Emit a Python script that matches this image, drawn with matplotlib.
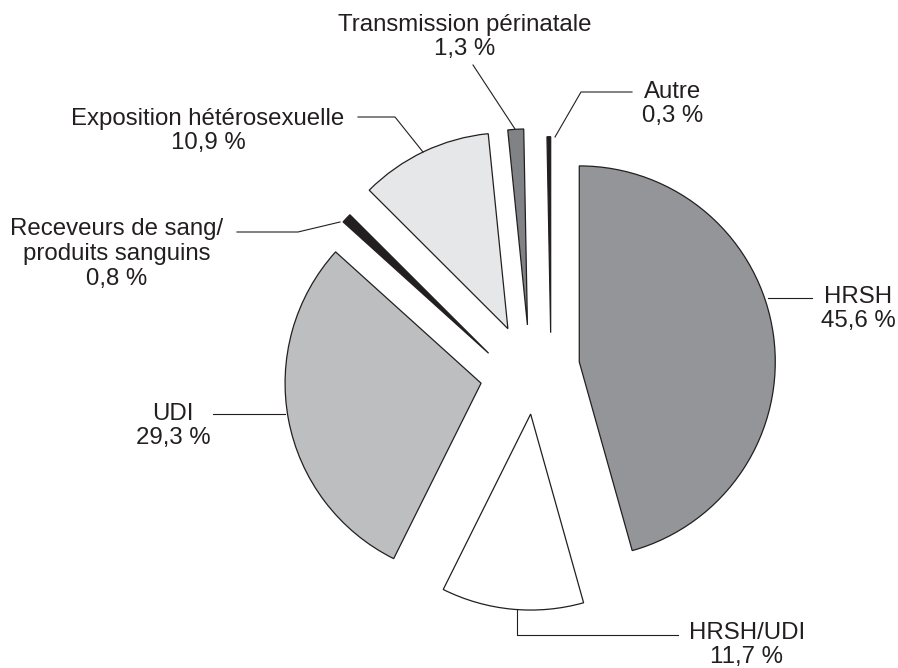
import matplotlib.pyplot as plt

# données (pourcentages, dans le sens horaire à partir de midi)
labels = ['HRSH', 'HRSH/UDI', 'UDI', 'Receveurs de sang/\nproduits sanguins',
          'Exposition hétérosexuelle', 'Transmission périnatale', 'Autre']
values = [45.6, 11.7, 29.3, 0.8, 10.9, 1.3, 0.3]
pct_text = ['45,6 %', '11,7 %', '29,3 %', '0,8 %', '10,9 %', '1,3 %', '0,3 %']
colors = ['#939598', '#ffffff', '#bcbec0', '#231f20', '#e6e7e8', '#808285', '#231f20']

W, H = 898, 668
ink = '#231f20'
R = 196
# décalage de chaque part (fraction du rayon) + petit ajustement manuel (px)
explode = [0.228, 0.236, 0.28, 0.228, 0.239, 0.22, 0.18]
nudge = [(0, 0), (0, 0), (0, -5), (-14, -16), (-7, -3), (-5, 0), (16, 0)]

fig = plt.figure(figsize=(W / 100, H / 100), dpi=100)
ax = fig.add_axes([0, 0, 1, 1])

wedges, _ = ax.pie(values, explode=[e * R for e in explode], colors=colors, startangle=90,
                   counterclock=False, center=(535, H - 368), radius=R,
                   wedgeprops=dict(edgecolor=ink, linewidth=0.9))
for w, (dx, dy) in zip(wedges, nudge):
    cx, cy = w.center
    w.set_center((cx + dx, cy + dy))

ax.set_xlim(0, W)
ax.set_ylim(0, H)
ax.set_aspect('equal')
ax.axis('off')

# emplacement des étiquettes (coordonnées image, y vers le bas)
text_pos = [(858, 309), (747, 645), (173, 426), (117, 254), (208, 131), (465, 37), (673, 104)]
leaders = [
    [(768, 298), (812, 298)],
    [(517, 609), (517, 635), (678, 635)],
    [(213, 414), (285, 414)],
    [(237, 232), (298, 232), (340, 222)],
    [(358, 117), (395, 117), (423, 152)],
    [(473, 65), (515, 129)],
    [(632, 92), (581, 92), (555, 137)],
]

for lab, pct, (x, y), pts in zip(labels, pct_text, text_pos, leaders):
    ax.text(x, H - y, lab + '\n' + pct, ha='center', va='center', fontsize=17.3,
            family='Liberation Sans', color=ink, linespacing=1.15)
    ax.plot([p[0] for p in pts], [H - p[1] for p in pts], color=ink, lw=0.8)

plt.savefig('out.png', dpi=100, facecolor='white')
